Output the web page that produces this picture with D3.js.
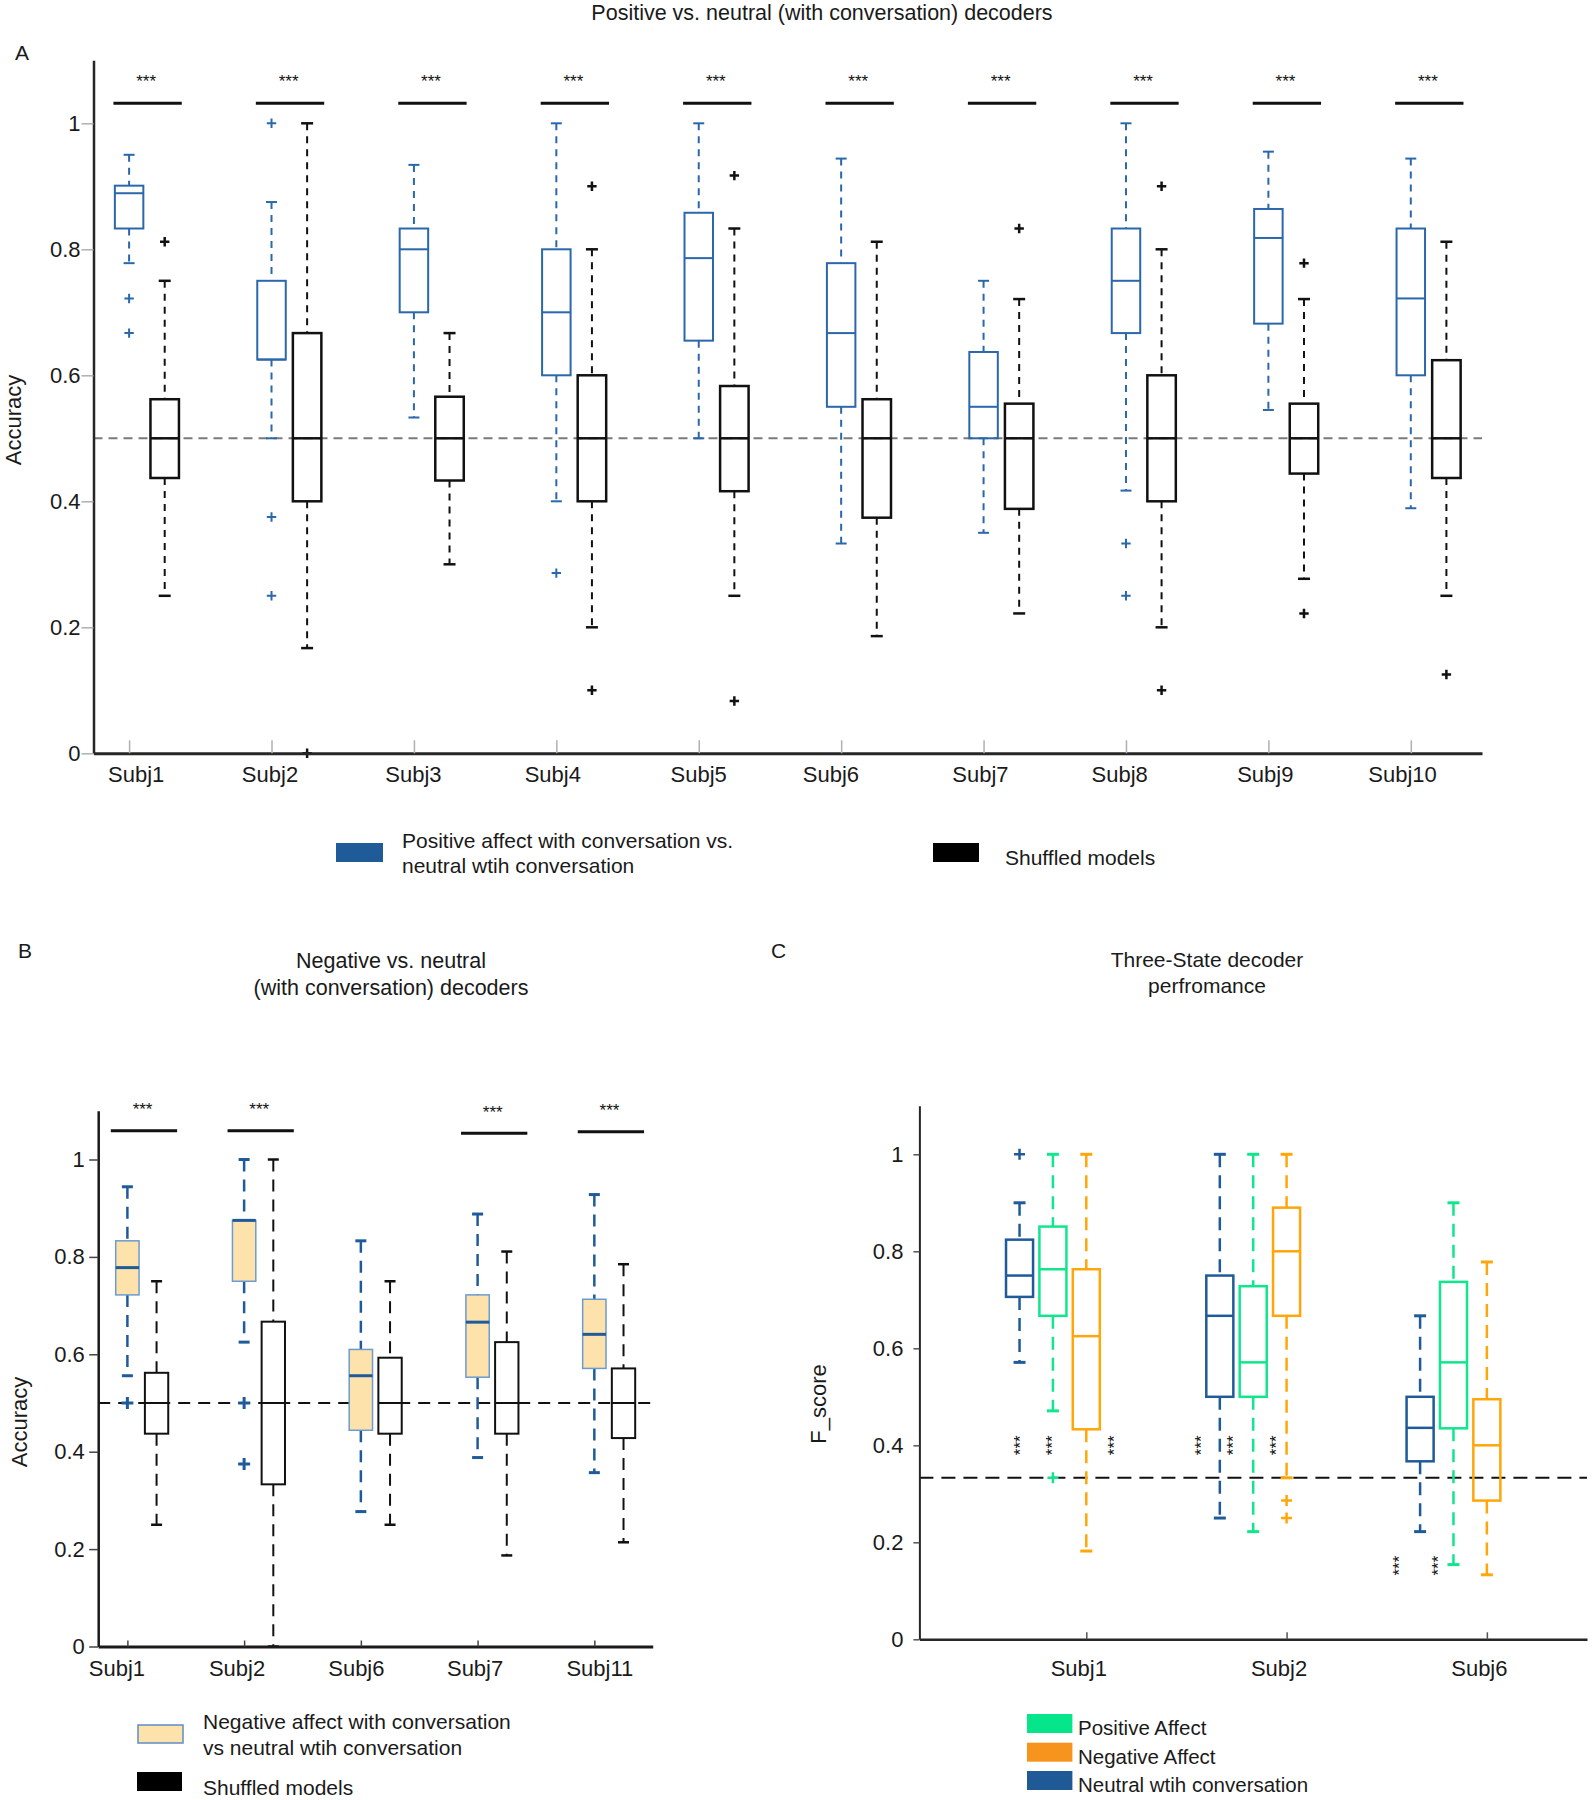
<!DOCTYPE html>
<html><head><meta charset="utf-8">
<script src="https://cdn.jsdelivr.net/npm/d3@7"></script>
<style>body{margin:0;background:#fff}</style>
</head><body><svg id="c" width="1593" height="1800"></svg>
<script>
// ---------------- DATA ----------------
// five-number summaries: [lower whisker, Q1, median, Q3, upper whisker]
const subjectsA = ["Subj1","Subj2","Subj3","Subj4","Subj5","Subj6","Subj7","Subj8","Subj9","Subj10"];
const positiveA = [
  [0.778,0.833,0.889,0.901,0.950],
  [0.500,0.625,0.625,0.750,0.875],
  [0.533,0.700,0.800,0.833,0.934],
  [0.400,0.600,0.700,0.800,1.000],
  [0.500,0.655,0.786,0.858,1.000],
  [0.333,0.550,0.667,0.778,0.944],
  [0.350,0.500,0.550,0.637,0.750],
  [0.417,0.667,0.750,0.833,1.000],
  [0.545,0.682,0.818,0.864,0.955],
  [0.389,0.600,0.722,0.833,0.944]
];
const positiveAOutliers = [[0.722,0.667],[1.0,0.375,0.25],[],[0.286],[],[],[],[0.333,0.25],[],[]];
const shuffledA = [
  [0.250,0.437,0.500,0.562,0.750],
  [0.167,0.400,0.500,0.667,1.000],
  [0.300,0.433,0.500,0.566,0.667],
  [0.200,0.400,0.500,0.600,0.800],
  [0.250,0.416,0.500,0.583,0.833],
  [0.186,0.374,0.500,0.562,0.812],
  [0.222,0.388,0.500,0.555,0.721],
  [0.200,0.400,0.500,0.600,0.800],
  [0.277,0.444,0.500,0.555,0.721],
  [0.250,0.437,0.500,0.624,0.812]
];
const shuffledAOutliers = [[0.812],[0],[],[0.9,0.1],[0.917,0.083],[],[0.833],[0.9,0.1],[0.778,0.222],[0.125]];
const sigA = ["***","***","***","***","***","***","***","***","***","***"];

const subjectsB = ["Subj1","Subj2","Subj6","Subj7","Subj11"];
const negativeB = [
  [0.556,0.722,0.778,0.833,0.944],
  [0.625,0.750,0.875,0.875,1.000],
  [0.277,0.444,0.556,0.610,0.833],
  [0.388,0.553,0.666,0.722,0.888],
  [0.357,0.571,0.641,0.713,0.928]
];
const negativeBOutliers = [[0.5],[0.5,0.375],[],[],[]];
const shuffledB = [
  [0.250,0.437,0.500,0.562,0.750],
  [0.000,0.333,0.500,0.667,1.000],
  [0.250,0.437,0.500,0.593,0.750],
  [0.187,0.437,0.500,0.625,0.811],
  [0.214,0.428,0.500,0.571,0.785]
];
const shuffledBOutliers = [[],[],[],[],[]];
const sigB = ["***","***","","***","***"];
const sigBLevel = [1.059,1.059,null,1.054,1.057];

const subjectsC = ["Subj1","Subj2","Subj6"];
const neutralC = [
  [0.571,0.706,0.750,0.824,0.900],
  [0.250,0.500,0.667,0.750,1.000],
  [0.222,0.367,0.436,0.500,0.667]
];
const neutralCOutliers = [[1.0],[],[]];
const positiveC = [
  [0.471,0.667,0.763,0.851,1.000],
  [0.222,0.500,0.571,0.728,1.000],
  [0.154,0.435,0.571,0.737,0.900]
];
const positiveCOutliers = [[0.333],[],[]];
const negativeC = [
  [0.182,0.433,0.625,0.763,1.000],
  [0.333,0.667,0.800,0.890,1.000],
  [0.133,0.286,0.400,0.495,0.778]
];
const negativeCOutliers = [[],[0.286,0.25],[]];
const starsC = [[0.65,0.40],[0.809,0.40],[1.119,0.40],[1.553,0.40],[1.713,0.40],[1.928,0.40],[2.541,0.152],[2.737,0.152]];

const yTicks = [0,0.2,0.4,0.6,0.8,1];
const yTickLabels = ["0","0.2","0.4","0.6","0.8","1"];
const chanceAB = 0.5;
const chanceC = 1/3;

// ---------------- DRAWING ----------------
const FONT = "'Liberation Sans', Arial, Helvetica, sans-serif";
const TXT = "#1a1a1a";
// small per-label horizontal nudges of the category labels (layout only)
const nudgeA = [6.6,-2,-1,-4,-0.6,-10.7,-3.7,-6.8,-3.6,-8.8];
const nudgeB = [-11,-7.6,-5,-3,5];
const nudgeC = [-8,-8,-8];

const svg = d3.select("#c");
svg.append("rect").attr("width",1593).attr("height",1800).attr("fill","#fff");

function text(x, y, s, size, anchor) {
  return svg.append("text").attr("x",x).attr("y",y).text(s)
    .attr("font-family",FONT).attr("font-size",size).attr("fill",TXT)
    .attr("text-anchor",anchor||"start");
}

function drawSeries(g, x, y, stats, outs, off, bwUnits, st) {
  const half = (x(bwUnits) - x(0)) / 2;
  stats.forEach((s, i) => {
    const cx = x(i + 1 + off);
    const [lw, q1, md, q3, uw] = s;
    [[uw,q3],[q1,lw]].forEach(([a,b]) => {
      if (a !== b) g.append("line").attr("x1",cx).attr("x2",cx).attr("y1",y(a)).attr("y2",y(b))
        .attr("stroke",st.wc).attr("stroke-width",st.ww).attr("stroke-dasharray",st.dash);
    });
    [uw,lw].forEach(v => g.append("line").attr("x1",cx-st.cap/2).attr("x2",cx+st.cap/2)
      .attr("y1",y(v)).attr("y2",y(v)).attr("stroke",st.wc).attr("stroke-width",st.capw));
    g.append("rect").attr("x",cx-half).attr("y",y(q3)).attr("width",2*half).attr("height",y(q1)-y(q3))
      .attr("fill",st.fill).attr("stroke",st.bc).attr("stroke-width",st.bw);
    g.append("line").attr("x1",cx-half).attr("x2",cx+half).attr("y1",y(md)).attr("y2",y(md))
      .attr("stroke",st.mc).attr("stroke-width",st.mw);
    (outs[i]||[]).forEach(v => {
      const py = y(v), r = st.ps;
      g.append("path").attr("d",`M${cx-r},${py}H${cx+r}M${cx},${py-r}V${py+r}`)
        .attr("stroke",st.oc||st.wc).attr("stroke-width",st.pw).attr("fill","none");
    });
  });
}

function axes(g, x, y, opt) {
  const ya = g.append("g").attr("transform",`translate(${x.range()[0]},0)`)
    .call(d3.axisLeft(y).tickValues(yTicks).tickFormat((d,i)=>yTickLabels[i])
      .tickSizeInner(opt.ytick).tickSizeOuter(0).tickPadding(opt.ypad));
  ya.attr("font-family",FONT).attr("font-size",22);
  ya.select(".domain").attr("stroke",opt.axc).attr("stroke-width",opt.yw);
  ya.selectAll(".tick line").attr("stroke",opt.tickc).attr("stroke-width",1.5);
  ya.selectAll(".tick text").attr("fill",TXT);
  const xa = g.append("g").attr("transform",`translate(0,${y(0)})`)
    .call(d3.axisBottom(x).tickValues(opt.xticks).tickFormat((d,i)=>opt.xlabels[i])
      .tickSizeInner(-opt.xtick).tickSizeOuter(0).tickPadding(opt.xpad));
  xa.attr("font-family",FONT).attr("font-size",22);
  xa.select(".domain").attr("stroke",opt.axc).attr("stroke-width",opt.xw);
  xa.selectAll(".tick line").attr("stroke",opt.tickc).attr("stroke-width",1.5);
  xa.selectAll(".tick text").attr("fill",TXT).attr("dx",(d,i)=>opt.nudge[i]);
}

function chance(g, x, y, v, color, dash) {
  g.append("line").attr("x1",x.range()[0]).attr("x2",x.range()[1]).attr("y1",y(v)).attr("y2",y(v))
    .attr("stroke",color).attr("stroke-width",2).attr("stroke-dasharray",dash);
}

function stars(g, cx, cy, s, fs) {
  g.append("text").attr("x",cx).attr("y",cy + 0.575*fs).text(s).attr("text-anchor","middle")
    .attr("font-family",FONT).attr("font-size",fs).attr("fill","#111");
}

// ----- Panel A -----
{
  const g = svg.append("g");
  const x = d3.scaleLinear().domain([0.75, 10.5]).range([93.5, 1482]);
  const y = d3.scaleLinear().domain([0, 1.1]).range([753.3, 60.3]);
  chance(g, x, y, chanceAB, "#7a7a7a", "9,6");
  const blue = "#2b67ab";
  drawSeries(g, x, y, positiveA, positiveAOutliers, 0, 0.2,
    {wc:blue, ww:2, dash:"7,6", cap:11, capw:2, fill:"none", bc:blue, bw:2, mc:blue, mw:2, ps:4.7, pw:2});
  drawSeries(g, x, y, shuffledA, shuffledAOutliers, 0.25, 0.2,
    {wc:"#111", ww:2, dash:"7,6", cap:12, capw:2.5, fill:"none", bc:"#111", bw:2.5, mc:"#111", mw:2.5, ps:4.7, pw:2.5});
  axes(g, x, y, {ytick:12, ypad:1, axc:"#262626", yw:2.5, xw:3, tickc:"#b0b0b0",
    xticks:d3.range(1, subjectsA.length+1), xlabels:subjectsA, xtick:13, xpad:12.7, nudge:nudgeA});
  sigA.forEach((s, i) => {
    if (!s) return;
    g.append("line").attr("x1",x(i+1-0.11)).attr("x2",x(i+1+0.37)).attr("y1",y(1.032)).attr("y2",y(1.032))
      .attr("stroke","#111").attr("stroke-width",3);
    stars(g, x(i+1+0.12), y(1.0735), s, 17);
  });
  text(822, 20, "Positive vs. neutral (with conversation) decoders", 21.5, "middle");
  text(15, 60, "A", 21);
  svg.append("text").attr("transform","translate(21,420) rotate(-90)").text("Accuracy")
    .attr("font-family",FONT).attr("font-size",22).attr("fill",TXT).attr("text-anchor","middle");
  svg.append("rect").attr("x",336).attr("y",843).attr("width",47).attr("height",19).attr("fill","#1f5b98");
  text(402, 848, "Positive affect with conversation vs.", 21);
  text(402, 873, "neutral wtih conversation", 21);
  svg.append("rect").attr("x",933).attr("y",843).attr("width",46).attr("height",19).attr("fill","#000");
  text(1005, 865, "Shuffled models", 21);
}

// ----- Panel B -----
{
  const g = svg.append("g");
  const x = d3.scaleLinear().domain([0.75, 5.5]).range([98.2, 652.7]);
  const y = d3.scaleLinear().domain([0, 1.1]).range([1646.5, 1110.8]);
  chance(g, x, y, chanceAB, "#111", "12,8");
  drawSeries(g, x, y, negativeB, negativeBOutliers, 0, 0.2,
    {wc:"#1f5b9a", ww:2.5, dash:"12,8", cap:11, capw:3, fill:"#fde3ab", bc:"#6b9bd1", bw:1.5, mc:"#1f5b9a", mw:3, ps:6, pw:3});
  drawSeries(g, x, y, shuffledB, shuffledBOutliers, 0.25, 0.2,
    {wc:"#111", ww:2, dash:"12,8", cap:11, capw:2.5, fill:"none", bc:"#111", bw:2, mc:"#111", mw:2, ps:6, pw:2.5});
  axes(g, x, y, {ytick:9, ypad:4.4, axc:"#1a1a1a", yw:2.5, xw:3, tickc:"#444",
    xticks:d3.range(1, subjectsB.length+1), xlabels:subjectsB, xtick:6, xpad:13.5, nudge:nudgeB});
  sigB.forEach((s, i) => {
    if (!s) return;
    const lv = sigBLevel[i];
    g.append("line").attr("x1",x(i+1-0.142)).attr("x2",x(i+1+0.426)).attr("y1",y(lv)).attr("y2",y(lv))
      .attr("stroke","#111").attr("stroke-width",3);
    stars(g, x(i+1+0.13), y(lv+0.052), s, 17);
  });
  text(391, 968, "Negative vs. neutral", 21.5, "middle");
  text(391, 995, "(with conversation) decoders", 21.5, "middle");
  text(18, 958, "B", 21);
  svg.append("text").attr("transform","translate(27,1422) rotate(-90)").text("Accuracy")
    .attr("font-family",FONT).attr("font-size",22).attr("fill",TXT).attr("text-anchor","middle");
  svg.append("rect").attr("x",138).attr("y",1725).attr("width",45).attr("height",18)
    .attr("fill","#fde3ab").attr("stroke","#5b8ec9").attr("stroke-width",1.5);
  text(203, 1729, "Negative affect with conversation", 21);
  text(203, 1755, "vs neutral wtih conversation", 21);
  svg.append("rect").attr("x",137).attr("y",1772).attr("width",45).attr("height",19).attr("fill","#000");
  text(203, 1795, "Shuffled models", 21);
}

// ----- Panel C -----
{
  const g = svg.append("g");
  const x = d3.scaleLinear().domain([1/6, 3.5]).range([919.4, 1587]);
  const y = d3.scaleLinear().domain([0, 1.1]).range([1639.3, 1105.8]);
  chance(g, x, y, chanceC, "#111", "14,8");
  const blue = "#1f5b98", green = "#10e68c", orange = "#ffa60a";
  const st = c => ({wc:c, ww:2.5, dash:"13,8", cap:12, capw:3, fill:"none", bc:c, bw:2.5, mc:c, mw:2.5, ps:5.5, pw:2.5});
  drawSeries(g, x, y, neutralC, neutralCOutliers, -1/3, 0.135, st(blue));
  drawSeries(g, x, y, positiveC, positiveCOutliers, -1/6, 0.135, st(green));
  drawSeries(g, x, y, negativeC, negativeCOutliers, 0, 0.135, st(orange));
  axes(g, x, y, {ytick:6, ypad:10, axc:"#262626", yw:2, xw:2.5, tickc:"#555",
    xticks:d3.range(1, subjectsC.length+1), xlabels:subjectsC, xtick:7, xpad:21, nudge:nudgeC});
  starsC.forEach(([sx, sv]) => {
    g.append("text").attr("transform",`translate(${x(sx)},${y(sv)}) rotate(-90)`)
      .attr("y", 0.575*17).text("***").attr("text-anchor","middle")
      .attr("font-family",FONT).attr("font-size",17).attr("fill","#111");
  });
  text(1207, 966.7, "Three-State decoder", 21, "middle");
  text(1207, 993, "perfromance", 21, "middle");
  text(771, 958, "C", 21);
  svg.append("text").attr("transform","translate(826,1404) rotate(-90)").text("F_score")
    .attr("font-family",FONT).attr("font-size",22).attr("fill",TXT).attr("text-anchor","middle");
  const leg = [["Positive Affect","#05e68a",1714],["Negative Affect","#f7941d",1742.7],["Neutral wtih conversation","#1f5a96",1771]];
  leg.forEach(([t,c,yy]) => {
    svg.append("rect").attr("x",1027).attr("y",yy).attr("width",45.4).attr("height",19).attr("fill",c);
    text(1078, yy + 21, t, 20.5);
  });
}
</script>
</body></html>
